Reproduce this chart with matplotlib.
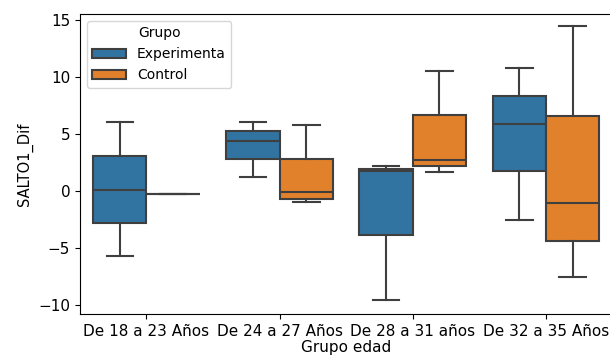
import matplotlib
matplotlib.use("Agg")

import matplotlib.pyplot as plt
from matplotlib.patches import Patch

# Age groups and box statistics per group (whisker low, Q1, median, Q3, whisker high)
grupos_edad = ["De 18 a 23 Años", "De 24 a 27 Años", "De 28 a 31 años", "De 32 a 35 Años"]
grupos = ["Experimenta", "Control"]

exp_whislo = [-5.7, 1.2, -9.6, -2.6]
exp_q1 = [-2.8, 2.8, -3.9, 1.7]
exp_med = [0.1, 4.4, 1.75, 5.85]
exp_q3 = [3.05, 5.2, 1.9, 8.3]
exp_whishi = [6.0, 6.0, 2.2, 10.75]

ctl_whislo = [-0.25, -1.0, 1.65, -7.6]
ctl_q1 = [-0.25, -0.7, 2.2, -4.4]
ctl_med = [-0.25, -0.1, 2.7, -1.1]
ctl_q3 = [-0.25, 2.8, 6.6, 6.55]
ctl_whishi = [-0.25, 5.8, 10.5, 14.4]

colors = ["#3274a1", "#e1812c"]
line_color = "#3f3f3f"


def box_stats(lo, q1, med, q3, hi):
    return [dict(whislo=a, q1=b, med=c, q3=d, whishi=e, fliers=[])
            for a, b, c, d, e in zip(lo, q1, med, q3, hi)]


fig = plt.figure(figsize=(6.1, 3.56), dpi=100)
# axes run slightly past the right edge of the canvas
ax = fig.add_axes([0.131, 0.118, 0.873, 0.843])

series = [
    box_stats(exp_whislo, exp_q1, exp_med, exp_q3, exp_whishi),
    box_stats(ctl_whislo, ctl_q1, ctl_med, ctl_q3, ctl_whishi),
]
width = 0.4
for i, stats in enumerate(series):
    offset = (i - 0.5) * width
    positions = [k + offset for k in range(len(grupos_edad))]
    line_kw = dict(color=line_color, linewidth=1.5)
    ax.bxp(stats, positions=positions, widths=width, patch_artist=True,
           showfliers=False, manage_ticks=False,
           boxprops=dict(facecolor=colors[i], edgecolor=line_color, linewidth=1.5),
           medianprops=line_kw, whiskerprops=line_kw, capprops=line_kw)

ax.set_xlim(-0.5, 3.5)
ax.set_ylim(-10.8, 15.5)
ax.set_xticks(range(len(grupos_edad)))
ax.set_xticklabels(grupos_edad)
ax.set_yticks([-10, -5, 0, 5, 10, 15])
ax.tick_params(labelsize=11)
ax.set_xlabel("Grupo edad", fontsize=11, labelpad=1)
ax.set_ylabel("SALTO1_Dif", fontsize=10.5)

handles = [Patch(facecolor=c, edgecolor=line_color, linewidth=1.5, label=g)
           for c, g in zip(colors, grupos)]
ax.legend(handles=handles, title="Grupo", loc="upper left", fontsize=10,
          title_fontsize=10, handlelength=2.4)

fig.savefig("out.png", dpi=100)
